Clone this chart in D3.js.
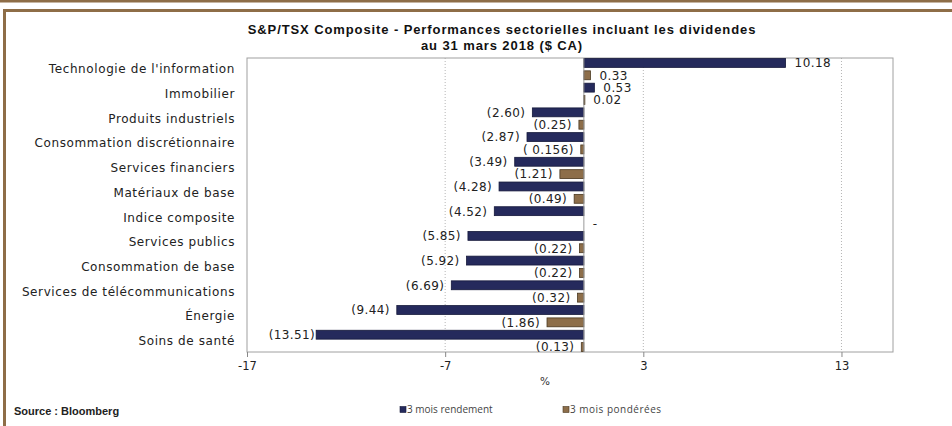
<!DOCTYPE html>
<html>
<head>
<meta charset="utf-8">
<script src="https://cdn.jsdelivr.net/npm/d3@7"></script>
<style>
  body { margin: 0; background: #fff; }
  svg { display: block; }
</style>
</head>
<body>
<div id="chart-area"></div>
<script>
var categories = [
  'Technologie de l\'information', 'Immobilier', 'Produits industriels',
  'Consommation discrétionnaire', 'Services financiers', 'Matériaux de base',
  'Indice composite', 'Services publics', 'Consommation de base',
  'Services de télécommunications', 'Énergie', 'Soins de santé'
]
var rendement = [10.18, 0.53, -2.60, -2.87, -3.49, -4.28, -4.52, -5.85, -5.92, -6.69, -9.44, -13.51]
var ponderees = [0.33, 0.02, -0.25, -0.156, -1.21, -0.49, null, -0.22, -0.22, -0.32, -1.86, -0.13]
var xTicks = [-17, -7, 3, 13]
var seriesNames = ['3 mois rendement', '3 mois pondérées']

var W = 952, H = 426
var margin = { left: 247, right: 59, top: 58, bottom: 74 }
var width = W - margin.left - margin.right,
    height = H - margin.top - margin.bottom

var colors = ['#252a5c', '#8d6e4a']
var strokes = ['#15183a', '#4a3820']

var svg = d3.select('#chart-area')
  .append('svg')
  .attr('width', W)
  .attr('height', H)

// brown frame
svg.append('rect').attr('x', 0).attr('y', 0).attr('width', W).attr('height', 2.5).attr('fill', '#8e6d47')
svg.append('rect').attr('x', 3).attr('y', 9).attr('width', W - 3).attr('height', 3).attr('fill', '#8e6d47')
svg.append('rect').attr('x', 3).attr('y', 9).attr('width', 3).attr('height', H - 9).attr('fill', '#8e6d47')

// title, two lines
var titleLines = ['S&P/TSX Composite - Performances sectorielles incluant les dividendes', 'au 31 mars 2018 ($ CA)']
svg.selectAll('.title').data(titleLines)
  .enter().append('text')
  .attr('x', 502)
  .attr('y', (d, i) => 34 + i * 15.5)
  .attr('text-anchor', 'middle')
  .style('font-family', 'Liberation Sans, Arial, sans-serif')
  .style('font-weight', 'bold')
  .style('font-size', '13px')
  .style('letter-spacing', '0.9px')
  .attr('fill', '#111')
  .text(d => d)

var g = svg.append('g')
  .attr('transform', 'translate(' + margin.left + ', ' + margin.top + ')')

var x = d3.scaleLinear()
  .domain([-17, 15.6])
  .range([0, width])

var y0 = d3.scaleBand()
  .domain(categories)
  .range([0, height])
  .paddingInner(0.14)
  .paddingOuter(0.02)

var y1 = d3.scaleBand()
  .domain([0, 1])
  .range([0, y0.bandwidth()])
  .paddingInner(0.28)

// grid lines
g.selectAll('.grid').data(xTicks.slice(1))
  .enter().append('line')
  .attr('x1', d => x(d)).attr('x2', d => x(d))
  .attr('y1', 0).attr('y2', height)
  .attr('stroke', '#b5b5b5')
  .attr('stroke-dasharray', '1,2')

// plot frame
g.append('rect')
  .attr('x', 0).attr('y', 0)
  .attr('width', width).attr('height', height)
  .attr('fill', 'none')
  .attr('stroke', '#a0a0a0')

// x axis
var xAxis = g.append('g')
  .attr('transform', 'translate(0,' + height + ')')
  .call(d3.axisBottom(x).tickValues(xTicks).tickSize(5).tickFormat(d3.format('d')))
xAxis.select('.domain').remove()
xAxis.selectAll('line').attr('stroke', '#888')
xAxis.selectAll('text')
  .attr('dy', '0.85em')
  .attr('fill', '#222')
  .style('font-family', 'DejaVu Sans, sans-serif')
  .style('font-size', '11.5px')
  .text(d => d < 0 ? '-' + Math.abs(d) : d)

svg.append('text')
  .attr('x', 545).attr('y', 385)
  .attr('text-anchor', 'middle')
  .style('font-family', 'DejaVu Sans, sans-serif')
  .style('font-size', '10.5px')
  .attr('fill', '#333')
  .text('%')

// category labels
g.selectAll('.cat').data(categories)
  .enter().append('text')
  .attr('x', -12)
  .attr('y', d => y0(d) + y0.bandwidth() / 2)
  .attr('dy', '0.35em')
  .attr('text-anchor', 'end')
  .style('font-family', 'DejaVu Sans, sans-serif')
  .style('font-size', '12px')
  .style('letter-spacing', '0.6px')
  .attr('fill', '#222')
  .text(d => d)

var rows = categories.map(function(c, i) {
  return { cat: c, vals: [rendement[i], ponderees[i]] }
})

function fmt(v) {
  if (v == null) return '-'
  var s = String(Math.abs(v))
  var dec = s.indexOf('.') < 0 ? 0 : s.length - s.indexOf('.') - 1
  var txt = Math.abs(v).toFixed(Math.max(2, dec))
  if (v < 0) return '(' + (dec > 2 ? ' ' : '') + txt + ')'
  return txt
}

var grp = g.selectAll('.row').data(rows)
  .enter().append('g')
  .attr('transform', d => 'translate(0,' + y0(d.cat) + ')')

grp.selectAll('rect')
  .data(d => d.vals.map((v, k) => ({ v: v, k: k })))
  .enter().append('rect')
  .filter(d => d.v != null)
  .attr('x', d => x(Math.min(0, d.v)))
  .attr('y', d => y1(d.k))
  .attr('width', d => Math.max(1, Math.abs(x(d.v) - x(0))))
  .attr('height', y1.bandwidth())
  .attr('fill', d => colors[d.k])
  .attr('stroke', d => strokes[d.k])
  .attr('stroke-width', 0.8)

grp.selectAll('.lbl')
  .data(d => d.vals.map((v, k) => ({ v: v, k: k })))
  .enter().append('text')
  .attr('x', d => d.v != null && d.v < 0 ? (d.v < -12 ? x(d.v) - 1 : x(d.v) - 7) : x(d.v || 0) + 9)
  .attr('y', d => y1(d.k) + y1.bandwidth() / 2)
  .attr('dy', '0.36em')
  .attr('text-anchor', d => d.v != null && d.v < 0 ? 'end' : 'start')
  .style('font-family', 'DejaVu Sans, sans-serif')
  .style('font-size', '12px')
  .style('letter-spacing', '0.4px')
  .attr('fill', '#222')
  .text(d => fmt(d.v))

// zero axis
g.append('line')
  .attr('x1', x(0)).attr('x2', x(0))
  .attr('y1', 0).attr('y2', height)
  .attr('stroke', '#999')

// legend
var legend = svg.append('g')
  .selectAll('g').data(seriesNames)
  .enter().append('g')
  .attr('transform', (d, i) => 'translate(' + (400 + i * 163) + ',410)')
legend.append('rect')
  .attr('x', 0).attr('y', -3.5)
  .attr('width', 6).attr('height', 6)
  .attr('fill', (d, i) => colors[i])
  .attr('stroke', (d, i) => strokes[i])
  .attr('stroke-width', 0.6)
legend.append('text')
  .attr('x', 7).attr('y', 0)
  .attr('dy', '0.33em')
  .style('font-family', 'Open Sans, sans-serif')
  .style('font-size', '10px')
  .style('letter-spacing', (d, i) => i ? '0.5px' : '0px')
  .attr('fill', '#444')
  .text(d => d)

svg.append('text')
  .attr('x', 14).attr('y', 415)
  .style('font-family', 'Liberation Sans, Arial, sans-serif')
  .style('font-weight', 'bold')
  .style('font-size', '11px')
  .attr('fill', '#222')
  .text('Source : Bloomberg')
</script>
</body>
</html>
